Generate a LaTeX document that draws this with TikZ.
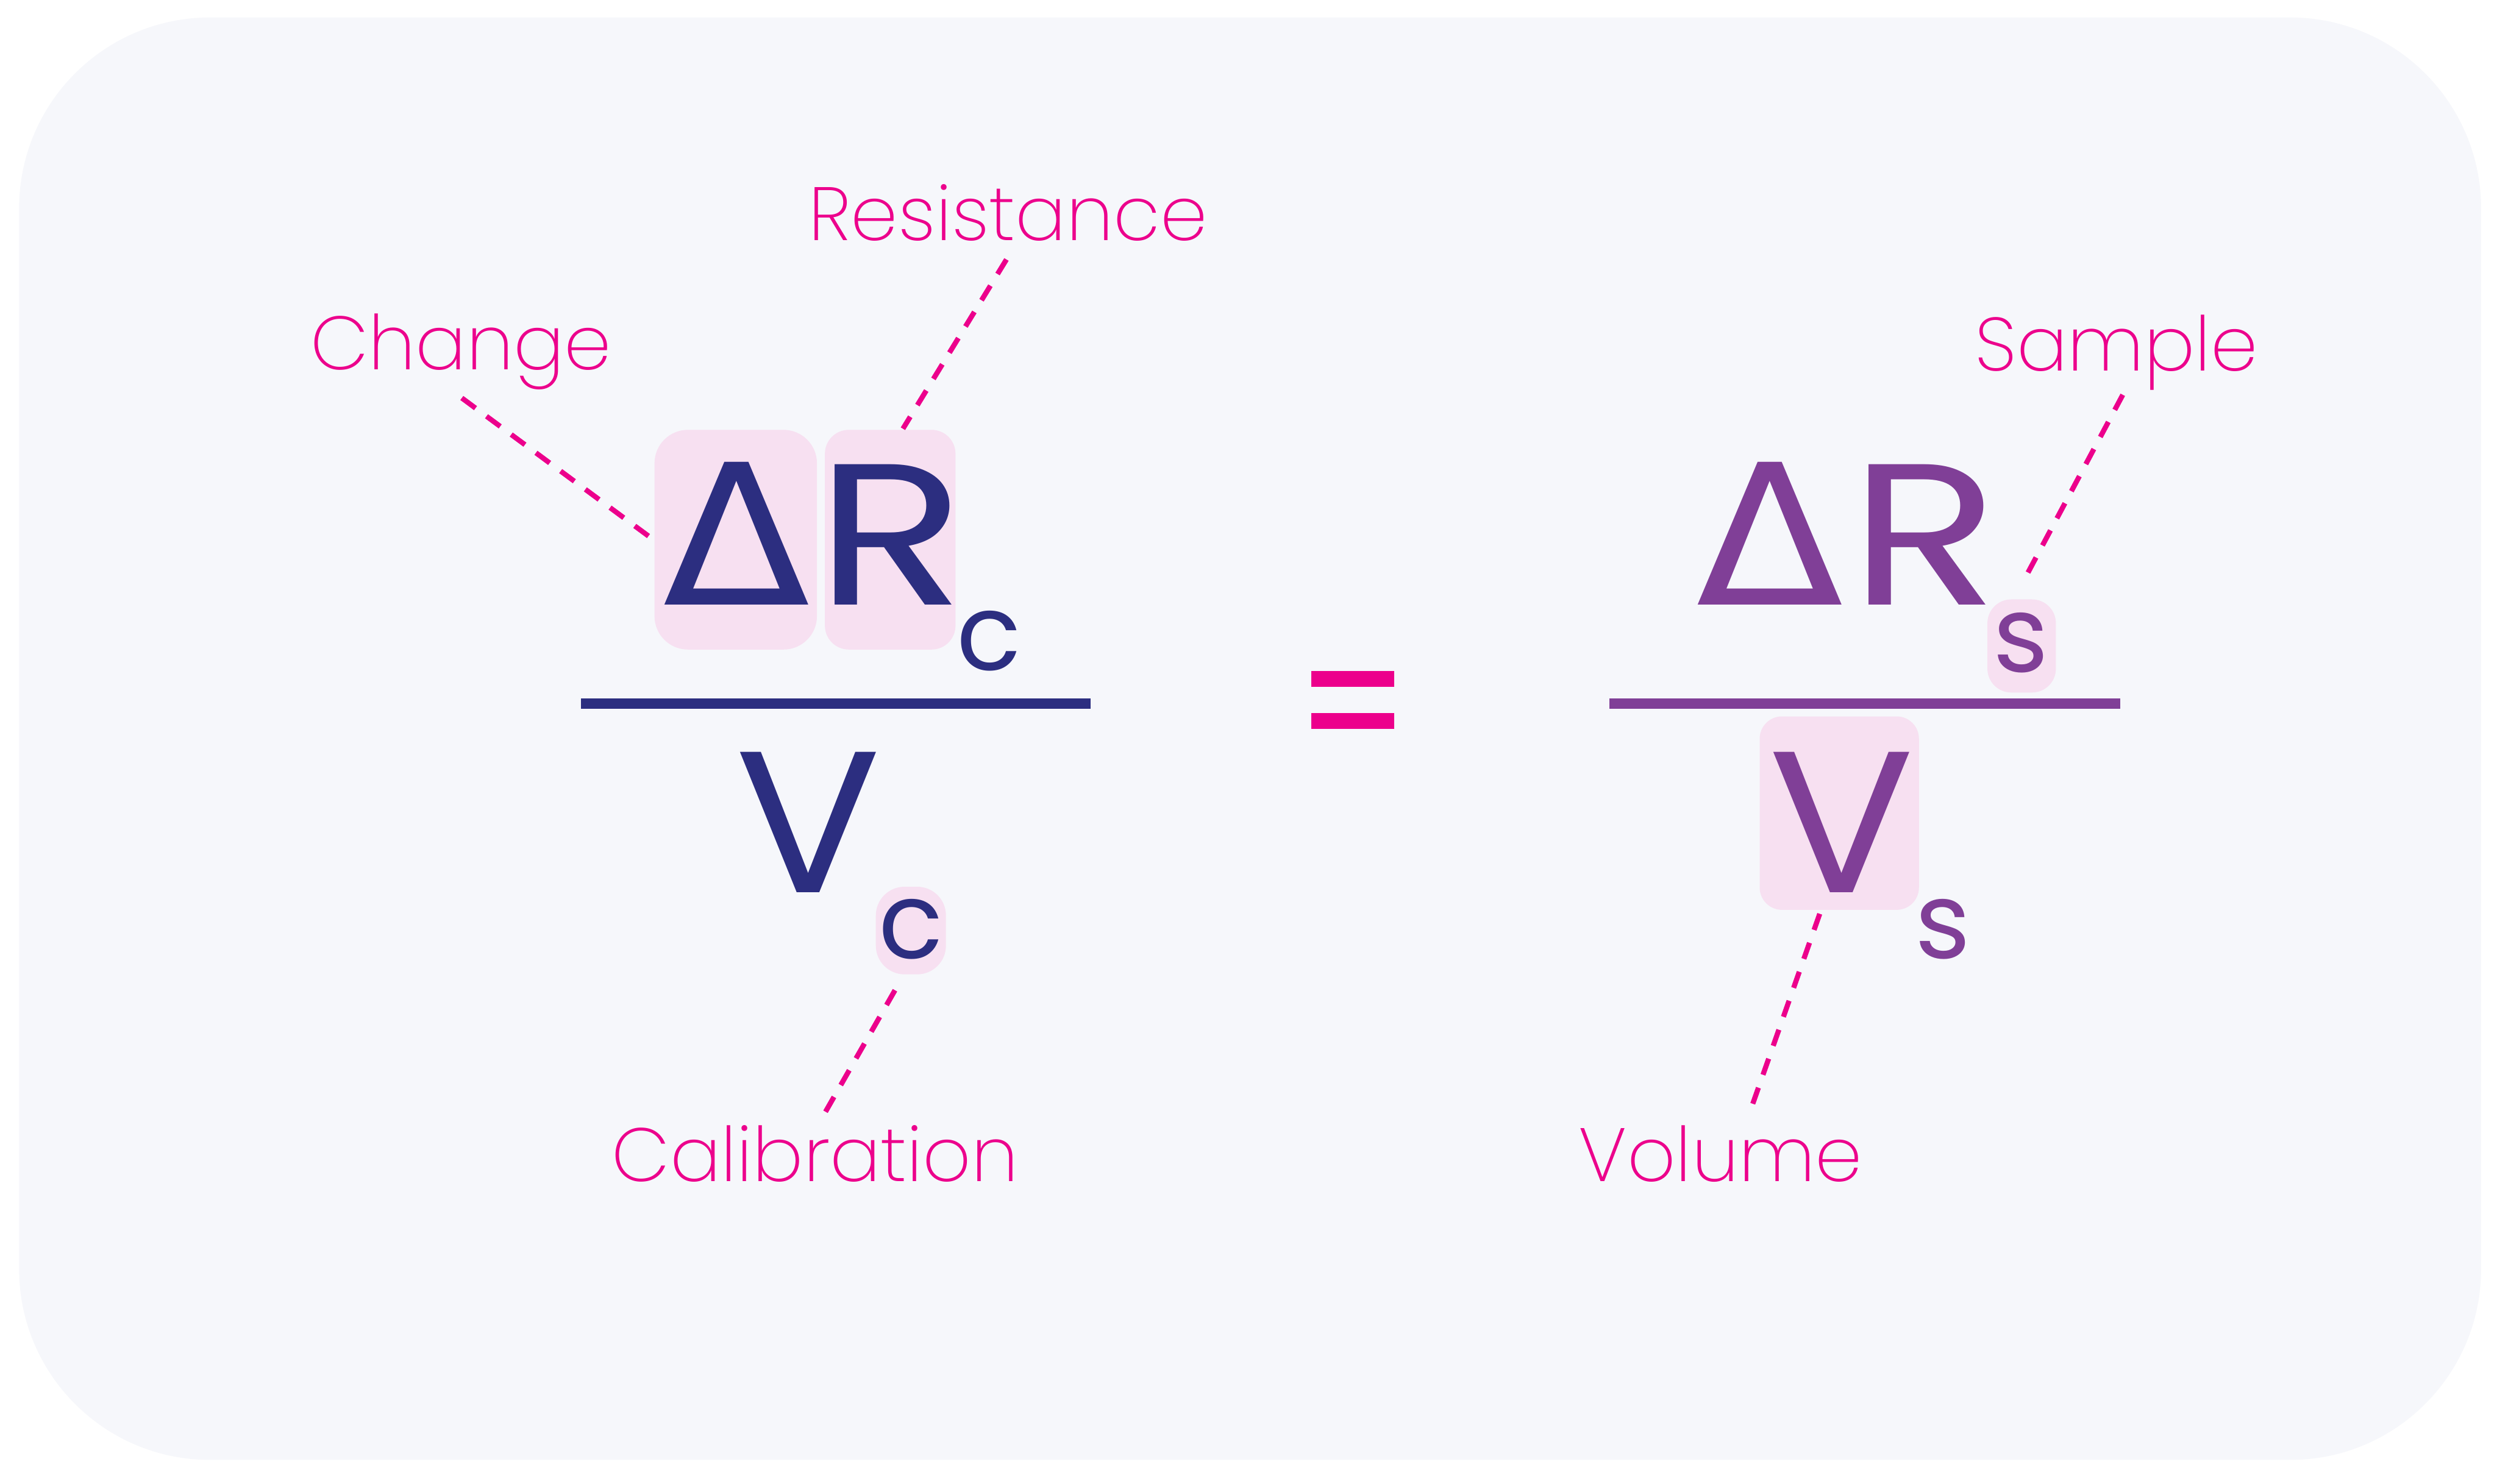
\documentclass[tikz,border=0pt]{standalone}
\usepackage{fontspec}
\setmainfont{Poppins}
\newfontfamily\labelfont{Poppins}[UprightFont=* ExtraLight]
\newfontfamily\deltafont{DejaVu Sans}
\usetikzlibrary{positioning}
\definecolor{panelbg}{HTML}{F6F7FB}
\definecolor{calnavy}{HTML}{2C2E80}
\definecolor{smppurple}{HTML}{803F97}
\definecolor{tagpink}{HTML}{EC008C}
\definecolor{hlpink}{HTML}{F7E0F1}
\newcommand{\wideR}{\scalebox{1.22}[1]{R}}
\newcommand{\wideV}{\scalebox{1.07}[1]{V}}
\newcommand{\wideD}{\scalebox{1.1}[1]{Δ}}
\tikzset{
  glyph/.style={inner sep=0,anchor=base,font=\fontsize{36}{36}\selectfont},
  dglyph/.style={inner sep=0,anchor=base,font=\deltafont\fontsize{35}{35}\selectfont},
  subglyph/.style={inner sep=0,anchor=base,font=\fontsize{19}{19}\selectfont},
  hl/.style={fill=hlpink,inner sep=0},
  tag/.style={text=tagpink,inner sep=0,anchor=base,font=\labelfont\fontsize{13.5}{13.5}\selectfont},
  leader/.style={draw=tagpink,line width=0.32mm,dash pattern=on 1.07mm off 0.86mm}
}
\begin{document}
\begin{tikzpicture}[x=0.1mm,y=-0.1mm]
  \useasboundingbox[fill=white] (0,0) rectangle (1568,932);
  \fill[panelbg,rounded corners=12mm] (12,11) rectangle (1558,917);

  % highlight boxes
  \node[hl,minimum width=10.2mm,minimum height=13.8mm,rounded corners=2.1mm] (dbox) at (462,339) {};
  \node[hl,minimum width=8.2mm,minimum height=13.8mm,rounded corners=1.5mm] (rbox) at (559,339) {};
  \node[hl,minimum width=4.4mm,minimum height=5.5mm,rounded corners=1.8mm] (cbox) at (572,584.5) {};
  \node[hl,minimum width=4.3mm,minimum height=5.85mm,rounded corners=1.5mm] (sbox) at (1269.5,405.75) {};
  \node[hl,minimum width=10mm,minimum height=12.15mm,rounded corners=1.4mm] (vbox) at (1155,510.75) {};

  % calibration side
  \node[dglyph,text=calnavy] (dcal) at (462.5,380) {\wideD};
  \node[glyph,text=calnavy] (rcal) at (559.5,380) {\wideR};
  \node[subglyph,text=calnavy] (rcalsub) at (621,421) {c};
  \draw[calnavy,line width=0.68mm] (365,442) coordinate (fcl) -- (685,442) coordinate (fcr);
  \node[glyph,text=calnavy] (vcal) at (507.5,560.5) {\wideV};
  \node[subglyph,text=calnavy] (vcalsub) at (572,602) {c};

  % equals sign
  \fill[tagpink] (823.5,421.6) rectangle (875.6,431.3);
  \fill[tagpink] (823.5,448) rectangle (875.6,458);

  % sample side
  \node[dglyph,text=smppurple] (dsmp) at (1111.4,380) {\wideD};
  \node[glyph,text=smppurple] (rsmp) at (1208.5,380) {\wideR};
  \node[subglyph,text=smppurple] (rsmpsub) at (1269,422) {s};
  \draw[smppurple,line width=0.68mm] (1010.5,442) coordinate (fsl) -- (1331.5,442) coordinate (fsr);
  \node[glyph,text=smppurple] (vsmp) at (1156.5,560.7) {\wideV};
  \node[subglyph,text=smppurple] (vsmpsub) at (1220,602) {s};

  % labels
  \node[tag] (resist) at (633,151) {Resistance};
  \node[tag] (change) at (289.5,232) {Change};
  \node[tag] (sample) at (1329,233) {Sample};
  \node[tag] (calib) at (512,742) {Calibration};
  \node[tag] (volume) at (1080.5,742) {Volume};

  % leader lines
  \coordinate (resistTip) at (632,163);
  \coordinate (changeTip) at (290,250);
  \coordinate (sampleTip) at (1333,248);
  \coordinate (calibTip) at (518,699);
  \coordinate (volumeTip) at (1099,698);
  \coordinate (cboxTip) at (562,622);
  \coordinate (vboxTip) at (1142.7,574);
  \draw[leader] (changeTip) -- (dbox.west);
  \draw[leader] (resistTip) -- ([xshift=0.8mm]rbox.north);
  \draw[leader] (sampleTip) -- ([yshift=1.15mm,xshift=0.15mm]sbox.north);
  \draw[leader] (cboxTip) -- (calibTip);
  \draw[leader] (vboxTip) -- (volumeTip);
\end{tikzpicture}
\end{document}
